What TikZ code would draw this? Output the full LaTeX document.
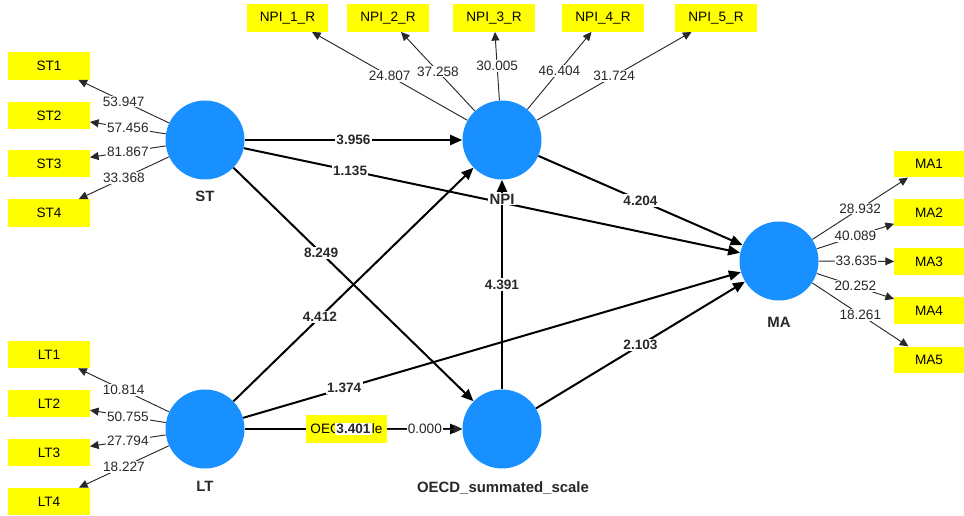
\documentclass[tikz,border=0pt]{standalone}
\usepackage{fontspec}
\setmainfont{Liberation Sans}
\usetikzlibrary{arrows.meta}
\definecolor{lvblue}{RGB}{24,144,255}
\definecolor{indyellow}{RGB}{255,255,0}
\definecolor{labgray}{RGB}{40,40,40}
\begin{document}
\begin{tikzpicture}[x=0.75pt,y=-0.75pt,
  font=\fontsize{10.2}{12}\selectfont,
  lv/.style={circle, fill=lvblue, minimum size=59.25pt, inner sep=0pt},
  ind/.style={fill=indyellow, minimum width=61pt, minimum height=20.5pt, inner sep=0pt},
  indma/.style={fill=indyellow, minimum width=52pt, minimum height=20pt, inner sep=0pt},
  lvlab/.style={font=\fontsize{11.2}{13}\selectfont\bfseries, fill=white, inner sep=1pt, text=labgray},
  sp/.style={draw=black, line width=1.5pt, -{Triangle[length=9pt,width=7.5pt]}},
  ip/.style={draw=labgray, line width=0.7pt, -{Triangle[length=6.5pt,width=6pt]}},
  sl/.style={fill=white, inner sep=1pt, font=\fontsize{10.2}{12}\selectfont\bfseries, text=labgray},
  il/.style={fill=white, inner sep=0.8pt, text=labgray}
]
\useasboundingbox (0,0) rectangle (964,516);

% latent variables
\node[lv] (ST) at (205,140) {};
\node[lv] (LT) at (205,429) {};
\node[lv] (NPI) at (502,140) {};
\node[lv] (OECD) at (502,429) {};
\node[lv] (MA) at (779,261) {};

% indicators
\node[ind] (ST1) at (49,66) {ST1};
\node[ind] (ST2) at (49,115.5) {ST2};
\node[ind] (ST3) at (49,163.5) {ST3};
\node[ind] (ST4) at (49,213) {ST4};
\node[ind] (LT1) at (49,354.5) {LT1};
\node[ind] (LT2) at (49,403.5) {LT2};
\node[ind] (LT3) at (49,452.5) {LT3};
\node[ind] (LT4) at (49,501.5) {LT4};
\node[ind] (N1) at (287.5,18) {NPI\_1\_R};
\node[ind] (N2) at (388,18) {NPI\_2\_R};
\node[ind] (N3) at (494,18) {NPI\_3\_R};
\node[ind] (N4) at (603,18) {NPI\_4\_R};
\node[ind] (N5) at (716,18) {NPI\_5\_R};
\node[indma] (MA1) at (929,164) {MA1};
\node[indma] (MA2) at (929,212.5) {MA2};
\node[indma] (MA3) at (929,261.5) {MA3};
\node[indma] (MA4) at (929,310.5) {MA4};
\node[indma] (MA5) at (929,360) {MA5};

% structural paths
\draw[sp] (ST) -- (NPI) node[sl, pos=0.5] (l3956) {3.956};
\draw[sp] (ST) -- (MA) node[sl, pos=0.214] (l1135) {1.135};
\draw[sp] (ST) -- (OECD) node[sl, pos=0.365] (l8249) {8.249};
\draw[sp] (LT) -- (NPI) node[sl, pos=0.36] (l4412) {4.412};
\draw[sp] (LT) -- (MA) node[sl, pos=0.203] (l1374) {1.374};
\draw[sp] (OECD) -- (NPI) node[sl, pos=0.5] (l4391) {4.391};
\draw[sp] (OECD) -- (MA) node[sl, pos=0.5] (l2103) {2.103};
\draw[sp] (NPI) -- (MA) node[sl, pos=0.5] (l4204) {4.204};
\draw[sp] (LT) -- (OECD);

% OECD single indicator box (covers the LT -> OECD path)
\node[ind] (OI) at (346.5,429) {OEC\hspace{24pt}le};
\path (LT) -- (OECD) node[sl, pos=0.5] (l3401) {3.401};
\draw[ip] (OI) -- (OECD) node[il, midway] (l0000) {0.000};

% outer loadings
\draw[ip] (ST) -- (ST1) node[il, midway] (s1) {53.947};
\draw[ip] (ST) -- (ST2) node[il, midway] (s2) {57.456};
\draw[ip] (ST) -- (ST3) node[il, midway] (s3) {81.867};
\draw[ip] (ST) -- (ST4) node[il, midway] (s4) {33.368};
\draw[ip] (LT) -- (LT1) node[il, midway] (t1) {10.814};
\draw[ip] (LT) -- (LT2) node[il, midway] (t2) {50.755};
\draw[ip] (LT) -- (LT3) node[il, midway] (t3) {27.794};
\draw[ip] (LT) -- (LT4) node[il, midway] (t4) {18.227};
\draw[ip] (NPI) -- (N1) node[il, midway] (n1) {24.807};
\draw[ip] (NPI) -- (N2) node[il, midway] (n2) {37.258};
\draw[ip] (NPI) -- (N3) node[il, midway] (n3) {30.005};
\draw[ip] (NPI) -- (N4) node[il, midway] (n4) {46.404};
\draw[ip] (NPI) -- (N5) node[il, midway] (n5) {31.724};
\draw[ip] (MA) -- (MA1) node[il, midway] (m1) {28.932};
\draw[ip] (MA) -- (MA2) node[il, midway] (m2) {40.089};
\draw[ip] (MA) -- (MA3) node[il, midway] (m3) {33.635};
\draw[ip] (MA) -- (MA4) node[il, midway] (m4) {20.252};
\draw[ip] (MA) -- (MA5) node[il, midway] (m5) {18.261};

% latent variable names
\node[lvlab] (STname) at (205,196) {ST};
\node[lvlab] (LTname) at (205,486) {LT};
\node[lvlab] (NPIname) at (502,199) {NPI};
\node[lvlab] (MAname) at (779,322) {MA};
\node[lvlab] (OECDname) at (503,488) {OECD\_summated\_scale};
\end{tikzpicture}
\end{document}
